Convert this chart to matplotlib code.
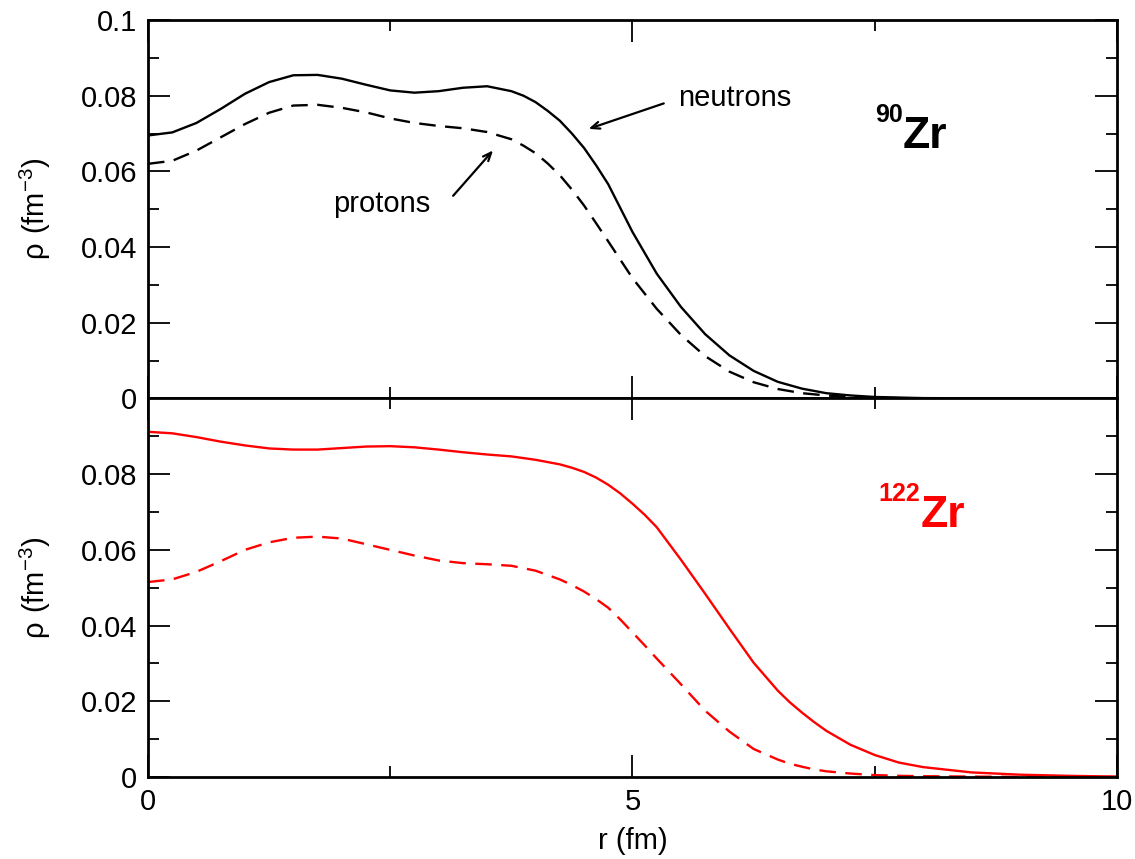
import numpy as np
import matplotlib.pyplot as plt
from matplotlib.ticker import MultipleLocator

plt.rcParams['font.family'] = ['Liberation Sans', 'DejaVu Sans']

# radial grid (fm), top panel
r_top = [0, 0.25, 0.5, 0.75, 1.0, 1.25, 1.5, 1.75, 2.0, 2.25, 2.5, 2.75, 3.0, 3.25,
         3.5, 3.75, 3.875, 4.0, 4.125, 4.25, 4.375, 4.5, 4.625, 4.75, 5.0, 5.25, 5.5,
         5.75, 6.0, 6.25, 6.5, 6.75, 7.0, 7.25, 7.5, 8.0, 9.0, 10.0]

# 90Zr densities (fm^-3)
zr90_neutrons = [0.0695, 0.0703, 0.0728, 0.0765, 0.0805, 0.0836, 0.0854, 0.0855, 0.0845,
                 0.0829, 0.0814, 0.0808, 0.0812, 0.0821, 0.0825, 0.0812, 0.0800, 0.0783,
                 0.0760, 0.0734, 0.0700, 0.0662, 0.0616, 0.0566, 0.0440, 0.0330, 0.0242,
                 0.0170, 0.0114, 0.0073, 0.0044, 0.0026, 0.0014, 0.0008, 0.0004, 0.0001,
                 0.0, 0.0]
zr90_protons = [0.0620, 0.0628, 0.0655, 0.0690, 0.0725, 0.0755, 0.0774, 0.0776, 0.0768,
                0.0756, 0.0740, 0.0728, 0.0720, 0.0714, 0.0704, 0.0685, 0.0668, 0.0648,
                0.0621, 0.0590, 0.0552, 0.0510, 0.0463, 0.0415, 0.0318, 0.0237, 0.0168,
                0.0112, 0.0071, 0.0043, 0.0025, 0.0014, 0.0008, 0.0004, 0.0002, 0.0,
                0.0, 0.0]

# radial grid (fm), bottom panel
r_bot = [0, 0.25, 0.5, 0.75, 1.0, 1.25, 1.5, 1.75, 2.0, 2.25, 2.5, 2.75, 3.0, 3.25,
         3.5, 3.75, 4.0, 4.25, 4.375, 4.5, 4.625, 4.75, 4.875, 5.0, 5.125, 5.25, 5.5,
         5.75, 6.0, 6.25, 6.5, 6.625, 6.75, 6.875, 7.0, 7.25, 7.5, 7.75, 8.0, 8.5,
         9.0, 9.5, 10.0]

# 122Zr densities (fm^-3)
zr122_neutrons = [0.0912, 0.0908, 0.0898, 0.0886, 0.0876, 0.0868, 0.0865, 0.0865, 0.0869,
                  0.0873, 0.0874, 0.0871, 0.0865, 0.0858, 0.0852, 0.0847, 0.0838, 0.0826,
                  0.0817, 0.0806, 0.0791, 0.0772, 0.0749, 0.0722, 0.0693, 0.0660, 0.0574,
                  0.0484, 0.0392, 0.0302, 0.0228, 0.0197, 0.0170, 0.0145, 0.0122, 0.0085,
                  0.0058, 0.0038, 0.0026, 0.0012, 0.0006, 0.0003, 0.0001]
zr122_protons = [0.0515, 0.0522, 0.0542, 0.0570, 0.0600, 0.0620, 0.0632, 0.0635, 0.0630,
                 0.0615, 0.0600, 0.0585, 0.0572, 0.0565, 0.0562, 0.0558, 0.0545, 0.0522,
                 0.0507, 0.0490, 0.0470, 0.0447, 0.0416, 0.0382, 0.0348, 0.0313, 0.0245,
                 0.0175, 0.0120, 0.0074, 0.0046, 0.0035, 0.0027, 0.0020, 0.0015, 0.0009,
                 0.0005, 0.0003, 0.0002, 0.0001, 0.0, 0.0, 0.0]

fig, (ax1, ax2) = plt.subplots(2, 1, sharex=True, figsize=(11.35, 8.59), dpi=100)
fig.subplots_adjust(left=0.1304, right=0.9841, top=0.9767, bottom=0.0955, hspace=0)

ax1.plot(r_top, zr90_neutrons, color='black', lw=1.7)
ax1.plot(r_top, zr90_protons, color='black', lw=1.7, dashes=(7, 4))
ax2.plot(r_bot, zr122_neutrons, color='red', lw=1.7)
ax2.plot(r_bot, zr122_protons, color='red', lw=1.7, dashes=(7, 4))

for ax in (ax1, ax2):
    ax.set_xlim(0, 10)
    ax.set_ylim(0, 0.1)
    ax.xaxis.set_major_locator(MultipleLocator(5))
    ax.xaxis.set_minor_locator(MultipleLocator(2.5))
    ax.yaxis.set_major_locator(MultipleLocator(0.02))
    ax.yaxis.set_minor_locator(MultipleLocator(0.01))
    ax.tick_params(which='both', direction='in', top=True, right=True,
                   width=1.3, labelsize=21, pad=8)
    ax.tick_params(which='major', length=16)
    ax.tick_params(which='minor', length=8)
    for s in ax.spines.values():
        s.set_linewidth(2)
    ax.set_ylabel(r'$\mathregular{\rho\ (fm^{-3})}$', fontsize=21, labelpad=20)

fmt = lambda v, p: '0' if abs(v) < 1e-9 else ('%g' % v)
ax1.yaxis.set_major_formatter(plt.FuncFormatter(fmt))
ax2.yaxis.set_major_formatter(plt.FuncFormatter(lambda v, p: '' if v > 0.095 else fmt(v, p)))
ax2.xaxis.set_major_formatter(plt.FuncFormatter(lambda v, p: '%g' % v))
ax2.set_xlabel('r (fm)', fontsize=21, labelpad=8)

# annotations
ax1.text(5.47, 0.0794, 'neutrons', fontsize=21, ha='left', va='center')
ax1.annotate('', xy=(4.52, 0.0710), xytext=(5.35, 0.0782),
             arrowprops=dict(arrowstyle='->, head_length=0.6, head_width=0.25', lw=1.6, color='black'))
ax1.text(1.91, 0.0513, 'protons', fontsize=21, ha='left', va='center')
ax1.annotate('', xy=(3.58, 0.0661), xytext=(3.13, 0.0530),
             arrowprops=dict(arrowstyle='->, head_length=0.6, head_width=0.25', lw=1.6, color='black'))

ax1.text(7.79, 0.0661, 'Zr', fontsize=32, fontweight='bold', ha='left', va='baseline')
ax1.text(7.79, 0.0730, '90', fontsize=18, fontweight='bold', ha='right', va='baseline')
ax2.text(7.97, 0.0660, 'Zr', fontsize=32, fontweight='bold', ha='left', va='baseline', color='red')
ax2.text(7.97, 0.0728, '122', fontsize=18, fontweight='bold', ha='right', va='baseline', color='red')

fig.savefig('out.png', dpi=100)
